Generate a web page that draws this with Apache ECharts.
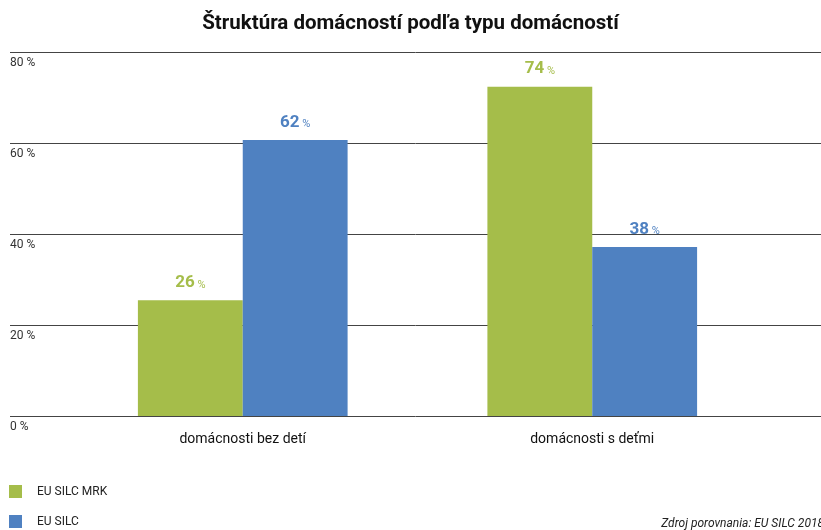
<!DOCTYPE html>
<html><head><meta charset="utf-8">
<script src="https://cdn.jsdelivr.net/npm/echarts@6/dist/echarts.min.js"></script>
<style>html,body{margin:0;padding:0;background:#fff}#c{width:821px;height:530px}</style>
</head><body><div id="c"></div>
<script>
const categories = ['domácnosti bez detí', 'domácnosti s deťmi'];
const seriesNames = ['EU SILC MRK', 'EU SILC'];
const mrkValues = [26, 74];
const silcValues = [62, 38];
const yTicks = [0, 20, 40, 60, 80];

const green = '#a5bd4a', blue = '#4f81c1';
const font = 'Roboto, "Liberation Sans", sans-serif';
function lbl(color){
  return {show:true, position:'top', distance:9,
    formatter: p => '{n|'+p.value+'}{p| %}',
    rich:{n:{fontSize:17,fontWeight:'bold',color:color,fontFamily:font},
          p:{fontSize:11,color:color,fontFamily:font,padding:[4,0,0,0]}}};
}
function legendFor(name, top){
  return {orient:'horizontal', left:9, top:top, itemWidth:13, itemHeight:13, padding:0,
     icon:'rect', textStyle:{fontSize:12,color:'#222',padding:[0,0,0,10],fontFamily:'"Liberation Sans Narrow", Roboto, sans-serif'},
     data:[name]};
}
const chart = echarts.init(document.getElementById('c'));
chart.setOption({
  animation:false,
  textStyle:{fontFamily:font},
  title:[{text:'Štruktúra domácností podľa typu domácností', left:'center', top:8,
     textStyle:{fontSize:20.5,fontWeight:'bold',color:'#111',fontFamily:font}},
    {text:'Zdroj porovnania: EU SILC 2018', right:-8, top:513,
     textStyle:{fontSize:12,fontStyle:'italic',fontWeight:'normal',color:'#222',fontFamily:font}}],
  legend:[legendFor(seriesNames[0],485), legendFor(seriesNames[1],515)],
  grid:[{left:10,right:0,top:52,bottom:114},{left:68,right:54,top:52,bottom:114}],
  xAxis:[{gridIndex:0,type:'value',show:false,min:0,max:1},
    {gridIndex:1,type:'category',data:categories,
     axisLine:{show:false},axisTick:{show:false},
     axisLabel:{fontSize:14,color:'#111',margin:16}}],
  yAxis:[{gridIndex:0,type:'value',min:yTicks[0],max:yTicks[yTicks.length-1],interval:20,
     axisLine:{show:false},axisTick:{show:false},
     splitLine:{lineStyle:{color:'#444',width:1}},
     axisLabel:{inside:true,align:'left',verticalAlign:'top',margin:0,padding:[5,0,0,0],
       fontSize:12,color:'#333',formatter:v=>v+' %'}},
    {gridIndex:1,type:'value',min:0,max:81.8,show:false,splitLine:{show:false}}],
  series:[
    {name:seriesNames[0],type:'bar',xAxisIndex:1,yAxisIndex:1,data:mrkValues,
     itemStyle:{color:green},barGap:'0%',barCategoryGap:'40%',label:lbl(green)},
    {name:seriesNames[1],type:'bar',xAxisIndex:1,yAxisIndex:1,data:silcValues,
     itemStyle:{color:blue},barGap:'0%',barCategoryGap:'40%',label:lbl(blue)}
  ]
});
</script></body></html>
